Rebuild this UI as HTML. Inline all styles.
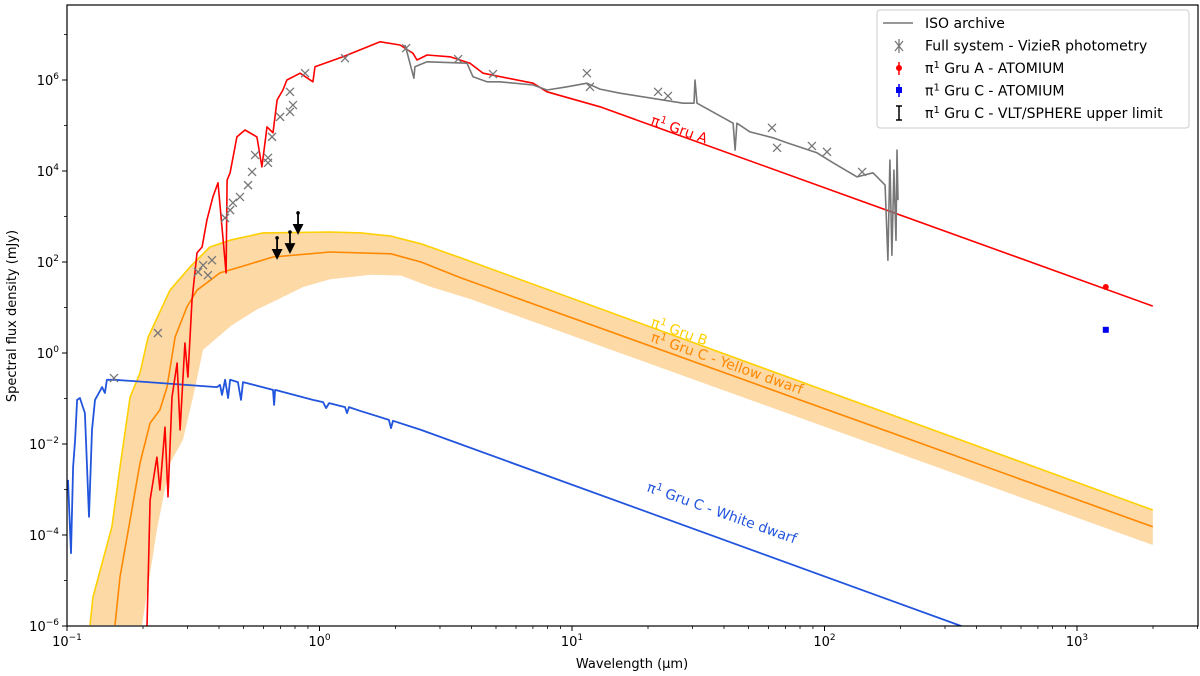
<!DOCTYPE html>
<html><head><meta charset="utf-8">
<style>
body{margin:0;background:#fff;width:1200px;height:676px;overflow:hidden}
svg{display:block;font-family:"DejaVu Sans","Liberation Sans",sans-serif}
</style></head><body>
<svg id="chart" width="1200" height="676" viewBox="0 0 1200 676">
<defs><clipPath id="clip"><rect x="67" y="5" width="1131" height="621"/></clipPath></defs>
<rect x="0" y="0" width="1200" height="676" fill="#fff"/>
<g id="plot" clip-path="url(#clip)"></g>
<g id="axes"></g>
</svg>
<script>
// ---- data (log10 wavelength [um], log10 flux [mJy]) ----
const redLx=[-0.683,-0.671,-0.644,-0.632,-0.612,-0.600,-0.584,-0.564,-0.552,-0.533,-0.521,-0.505,-0.485,-0.465,-0.446,-0.422,-0.402,-0.370,-0.366,-0.354,-0.327,-0.295,-0.248,-0.228,-0.208,-0.184,-0.168,-0.145,-0.129,-0.077,-0.026,-0.018,0.093,0.240,0.319,0.370,0.386,0.426,0.517,0.596,0.648,0.846,0.901,1.111,3.3];
const redLf=[-6.0,-3.23,-2.29,-3.01,-1.63,-3.16,-0.97,-0.22,-1.69,0.22,-0.53,1.16,2.20,2.33,2.92,3.43,3.74,1.76,3.80,3.96,4.75,4.90,4.75,4.09,4.97,4.84,5.56,5.78,6.0,6.15,5.96,6.29,6.51,6.84,6.77,6.59,6.44,6.55,6.51,6.37,6.15,5.93,5.74,5.41,1.03];
const isoLx=[0.339,0.374,0.378,0.426,0.584,0.608,0.663,0.715,0.846,0.901,0.980,1.059,1.111,1.190,1.440,1.483,1.487,1.495,1.638,1.646,1.653,1.705,1.796,1.851,1.970,2.034,2.129,2.192,2.240,2.251,2.259,2.267,2.275,2.283,2.287,2.291];
const isoLf=[6.77,6.04,6.29,6.40,6.37,6.07,5.96,5.96,5.89,5.78,5.85,5.93,5.80,5.71,5.49,5.49,6.0,5.49,5.05,4.46,5.05,4.86,4.73,4.62,4.40,4.18,3.87,3.96,3.69,2.04,4.24,2.15,4.02,2.48,4.46,3.36];
const photLx=[-0.814,-0.640,-0.481,-0.461,-0.442,-0.426,-0.374,-0.354,-0.343,-0.315,-0.283,-0.267,-0.255,-0.204,-0.204,-0.188,-0.156,-0.117,-0.105,-0.117,-0.057,0.101,0.343,0.549,0.687,1.059,1.071,1.341,1.380,1.792,1.812,1.950,2.010,2.149];
const photLf=[-0.55,0.44,1.78,1.93,1.71,2.04,2.97,3.14,3.30,3.43,3.69,3.98,4.35,4.29,4.18,4.75,5.19,5.30,5.45,5.74,6.15,6.48,6.70,6.46,6.13,6.15,5.85,5.74,5.65,4.95,4.51,4.55,4.42,3.98];
const yelLx=[-0.909,-0.897,-0.822,-0.790,-0.750,-0.711,-0.679,-0.671,-0.592,-0.513,-0.434,-0.354,-0.224,0.042,0.164,0.283,0.402,0.560,3.3];
const yelLf=[-5.98,-5.36,-3.82,-2.51,-0.97,-0.44,0.35,0.44,1.38,1.89,2.33,2.48,2.64,2.66,2.64,2.57,2.40,2.09,-3.45];
const orLx=[-0.810,-0.790,-0.750,-0.711,-0.671,-0.632,-0.604,-0.572,-0.525,-0.485,-0.394,-0.315,-0.184,0.042,0.283,0.402,0.560,3.3];
const orLf=[-5.98,-4.92,-3.67,-2.42,-1.54,-1.25,-0.75,0.35,1.01,1.38,1.76,1.89,2.11,2.22,2.18,2.0,1.65,-3.82];
const lowLx=[-0.703,-0.644,-0.592,-0.541,-0.501,-0.461,-0.35,-0.25,-0.156,-0.065,0.042,0.204,0.323,0.442,0.600,3.3];
const lowLf=[-5.98,-3.89,-2.42,-1.91,-0.97,0.07,0.6,0.95,1.2,1.45,1.62,1.72,1.70,1.45,1.18,-4.22];
const wdLx=[-0.996,-0.984,-0.976,-0.968,-0.960,-0.949,-0.929,-0.913,-0.901,-0.889,-0.861,-0.850,-0.842,-0.810,-0.406,-0.394,-0.386,-0.374,-0.362,-0.354,-0.323,-0.311,-0.303,-0.184,-0.180,-0.176,-0.026,0.014,0.026,0.038,0.101,0.109,0.117,0.160,0.275,0.283,0.291,0.402,2.541,2.7];
const wdLf=[-2.79,-4.40,-2.51,-1.91,-1.03,-0.99,-1.32,-3.60,-1.69,-1.03,-0.75,-0.88,-0.59,-0.59,-0.75,-0.70,-0.92,-0.59,-0.99,-0.59,-0.64,-1.03,-0.64,-0.81,-1.14,-0.81,-1.03,-1.08,-1.21,-1.10,-1.19,-1.32,-1.19,-1.27,-1.47,-1.65,-1.49,-1.69,-6,-6.32];
const ulLx=[-0.168,-0.117,-0.085];
const ulLf=[2.09,2.22,2.64];
const atomALx=[3.114], atomALf=[1.45];
const atomCLx=[3.114], atomCLf=[0.51];
const xTicks=[-1,0,1,2,3];
const yTicks=[-6,-4,-2,0,2,4,6];

// ---- axes ----
const X0=67,X1=1198,Y0=5,Y1=626;
const sx=l=>67+(l+1)*252.5;
const sy=l=>80+(6-l)*45.5;
const NS="http://www.w3.org/2000/svg";
const plot=document.getElementById('plot'), axes=document.getElementById('axes');
function mk(tag,attrs,parent,text){const e=document.createElementNS(NS,tag);for(const k in attrs)e.setAttribute(k,attrs[k]);if(text!==undefined)e.textContent=text;parent.appendChild(e);return e;}
function pts(lx,lf){return lx.map((v,i)=>sx(v).toFixed(1)+','+sy(lf[i]).toFixed(1)).join(' ');}

let band=mk('polygon',{points:pts(yelLx,yelLf)+' '+pts(lowLx.slice().reverse(),lowLf.slice().reverse()),fill:'#fdd9a6',stroke:'none'},plot);


function line(lx,lf,c,w,name){const p=mk('polyline',{points:pts(lx,lf),fill:'none',stroke:c,'stroke-width':w,'stroke-linejoin':'round'},plot);

return p;}
line(yelLx,yelLf,'#ffd000',1.6,'gru-b-line');
line(orLx,orLf,'#ff8800',1.6,'gru-c-yellow-dwarf-line');
line(wdLx,wdLf,'#2255dd',1.8,'gru-c-white-dwarf-line');
line(redLx,redLf,'#ff0000',1.6,'gru-a-line');
line(isoLx,isoLf,'#777777',1.6,'iso-archive-line');
photLx.forEach((v,i)=>{const x=sx(v),y=sy(photLf[i]);const g=mk('path',{d:`M${x-4},${y-4}L${x+4},${y+4}M${x-4},${y+4}L${x+4},${y-4}`,stroke:'#777',"stroke-width":1.3,fill:'none'},plot);

});
ulLx.forEach((v,i)=>{const x=sx(v),y=sy(ulLf[i]);const g=mk('path',{d:`M${x},${y-20}L${x},${y-2}M${x-4},${y-8}L${x},${y}L${x+4},${y-8}Z`,stroke:'#000',"stroke-width":1.8,fill:'#000'},plot);


const c=mk('circle',{cx:x,cy:y-20,r:1.8,fill:'#000'},plot);

});
atomALx.forEach((v,i)=>{const c=mk('circle',{cx:sx(v),cy:sy(atomALf[i]),r:3,fill:'#ff0000'},plot);

});
atomCLx.forEach((v,i)=>{const c=mk('rect',{x:sx(v)-3,y:sy(atomCLf[i])-3,width:6,height:6,fill:'#0000ee'},plot);

});

function lab(x,y,t,c,name){const e=mk('text',{x:x,y:y,fill:c,'font-size':14,transform:`rotate(19.5 ${x} ${y})`},plot);
e.innerHTML=t;

}
lab(650,124,'π<tspan dy="-5" font-size="10">1</tspan><tspan dy="5"> Gru A</tspan>','#ff0000','gru-a-label');
lab(650,326,'π<tspan dy="-5" font-size="10">1</tspan><tspan dy="5"> Gru B</tspan>','#ffd000','gru-b-label');
lab(650,341,'π<tspan dy="-5" font-size="10">1</tspan><tspan dy="5"> Gru C - Yellow dwarf</tspan>','#ff8800','gru-c-yellow-dwarf-label');
lab(646,491,'π<tspan dy="-5" font-size="10">1</tspan><tspan dy="5"> Gru C - White dwarf</tspan>','#2255dd','gru-c-white-dwarf-label');

let fr=mk('rect',{x:X0,y:Y0,width:X1-X0,height:Y1-Y0,fill:'none',stroke:'#000','stroke-width':1.2},axes);


for(let d=-1;d<=3;d++){for(let m=2;m<=9;m++){const x=sx(d+Math.log10(m));if(x<X1){mk('line',{x1:x,x2:x,y1:Y1,y2:Y1+3,stroke:'#000','stroke-width':0.8},axes);}}}
xTicks.forEach(t=>{const x=sx(t);mk('line',{x1:x,x2:x,y1:Y1,y2:Y1+5,stroke:'#000','stroke-width':1},axes);
const e=mk('text',{x:x,y:Y1+20,'font-size':13,'text-anchor':'middle'},axes);
e.innerHTML=`10<tspan dy="-6" font-size="9">${t<0?'−'+(-t):t}</tspan>`;

});
yTicks.forEach(t=>{const y=sy(t);mk('line',{x1:X0-5,x2:X0,y1:y,y2:y,stroke:'#000','stroke-width':1},axes);
const e=mk('text',{x:X0-8,y:y+5,'font-size':13,'text-anchor':'end'},axes);
e.innerHTML=`10<tspan dy="-6" font-size="9">${t<0?'−'+(-t):t}</tspan>`;

});
for(let t=-5;t<=7;t+=2){const y=sy(t);if(y>Y0)mk('line',{x1:X0-3,x2:X0,y1:y,y2:y,stroke:'#000','stroke-width':0.8},axes);}
let xt=mk('text',{x:632,y:668,'font-size':13,'text-anchor':'middle'},axes,'Wavelength (μm)');


let yt=mk('text',{x:0,y:0,'font-size':13,'text-anchor':'middle',transform:'translate(16 316) rotate(-90)'},axes,'Spectral flux density (mJy)');



const lg=mk('g',{},axes);


mk('rect',{x:877,y:10,width:312,height:118,rx:3,fill:'#fff',stroke:'#ccc','stroke-width':1},lg);
mk('line',{x1:883,x2:913,y1:23,y2:23,stroke:'#777','stroke-width':1.6},lg);
mk('path',{d:'M895,41L903,51M895,51L903,41M899,39L899,53',stroke:'#777','stroke-width':1.3},lg);
mk('line',{x1:899,x2:899,y1:62,y2:75,stroke:'#f00','stroke-width':1.5},lg);mk('circle',{cx:899,cy:68,r:3,fill:'#f00'},lg);
mk('line',{x1:899,x2:899,y1:84,y2:97,stroke:'#00e','stroke-width':1.5},lg);mk('rect',{x:896,y:87,width:6,height:6,fill:'#00e'},lg);
mk('path',{d:'M896,106L902,106M899,106L899,120M896,120L902,120',stroke:'#000','stroke-width':1.5},lg);
const lt=['ISO archive','Full system - VizieR photometry','π<tspan dy="-5" font-size="10">1</tspan><tspan dy="5"> Gru A - ATOMIUM</tspan>','π<tspan dy="-5" font-size="10">1</tspan><tspan dy="5"> Gru C - ATOMIUM</tspan>','π<tspan dy="-5" font-size="10">1</tspan><tspan dy="5"> Gru C - VLT/SPHERE upper limit</tspan>'];
lt.forEach((t,i)=>{const e=mk('text',{x:925,y:28+i*22.5,'font-size':14},lg);e.innerHTML=t;

});
</script>
</body></html>
